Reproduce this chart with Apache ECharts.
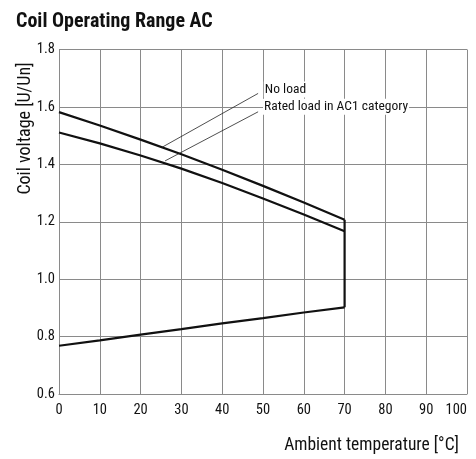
<!DOCTYPE html>
<html>
<head>
<meta charset="utf-8">
<script src="https://cdn.jsdelivr.net/npm/echarts@6/dist/echarts.min.js"></script>
<style>
html,body{margin:0;padding:0;background:#fff;}
#c{width:476px;height:459px;}
</style>
</head>
<body>
<div id="c"></div>
<script>
var FONT = "'Roboto Condensed','DejaVu Sans Condensed',sans-serif";
var temps = [0, 10, 20, 30, 40, 50, 60, 70];
var noLoad = [1.582, 1.535, 1.486, 1.435, 1.381, 1.325, 1.267, 1.207];
var ratedLoad = [1.511, 1.473, 1.431, 1.385, 1.335, 1.281, 1.225, 1.167];
var lowerLimit = [0.768, 0.787, 0.807, 0.826, 0.846, 0.864, 0.884, 0.902];
var xTicks = [0, 10, 20, 30, 40, 50, 60, 70, 80, 90, 100];
var yTicks = [0.6, 0.8, 1.0, 1.2, 1.4, 1.6, 1.8];

function pairs(xs, ys){ return xs.map(function(x,i){ return [x, ys[i]]; }); }
var last = temps.length - 1;
var edge = [[temps[last], noLoad[last]], [temps[last], lowerLimit[last]]];

var chart = echarts.init(document.getElementById('c'), null, {renderer:'canvas'});
var lineSty = {color:'#111', width:2.2};
var gridSty = {color:'#8a8a8a', width:1};

var option = {
  animation:false,
  backgroundColor:'#fff',
  title:{text:'Coil Operating Range AC', left:11, top:7,
    textStyle:{fontFamily:FONT, fontWeight:'bold', fontSize:20, color:'#111'}},
  grid:{left:59, right:9, top:49.5, bottom:65, containLabel:false},
  xAxis:{type:'value', min:xTicks[0], max:xTicks[xTicks.length-1], interval:10,
    axisLine:{show:true, lineStyle:gridSty}, axisTick:{show:false},
    splitLine:{show:true, lineStyle:gridSty},
    axisLabel:{fontFamily:FONT, fontSize:14.5, color:'#111', margin:9, alignMaxLabel:'right'}},
  yAxis:{type:'value', min:yTicks[0], max:yTicks[yTicks.length-1], interval:0.2,
    axisLine:{show:true, lineStyle:gridSty}, axisTick:{show:false},
    splitLine:{show:true, lineStyle:gridSty},
    axisLabel:{fontFamily:FONT, fontSize:14.5, color:'#111', margin:4,
      formatter:function(v){ return v.toFixed(1); }}},
  series:[
    {type:'line', data:pairs(temps, noLoad), symbol:'none', lineStyle:lineSty, silent:true,
     markLine:{silent:true, symbol:'none', label:{show:false},
       lineStyle:{color:'#222', width:0.8, type:'solid'},
       data:[
         [{coord:[25.2,1.459]},{coord:[48.8,1.647]}],
         [{coord:[26.0,1.412]},{coord:[48.8,1.583]}]
       ]}},
    {type:'line', data:pairs(temps, ratedLoad), symbol:'none', lineStyle:lineSty, silent:true},
    {type:'line', data:pairs(temps, lowerLimit), symbol:'none', lineStyle:lineSty, silent:true},
    {type:'line', data:edge, symbol:'none', lineStyle:lineSty, silent:true}
  ]
};
chart.setOption(option);

var p1 = chart.convertToPixel({gridIndex:0}, [50.2, 1.661]);
var p2 = chart.convertToPixel({gridIndex:0}, [50.0, 1.601]);
chart.setOption({
  graphic:[
    {type:'text', rotation:Math.PI/2, x:25, y:128.5,
     style:{text:'Coil voltage [U/Un]', fontFamily:FONT, fontSize:18, fill:'#111',
       align:'center', verticalAlign:'middle'}},
    {type:'text', x:371.5, y:446,
     style:{text:'Ambient temperature [°C]', fontFamily:FONT, fontSize:17.5, fill:'#111',
       align:'center', verticalAlign:'middle'}},
    {type:'text', x:p1[0], y:p1[1],
     style:{text:'No load', fontFamily:FONT, fontSize:13.5, fill:'#111',
       align:'left', verticalAlign:'middle', backgroundColor:'#fff', padding:[1,1]}},
    {type:'text', x:p2[0], y:p2[1],
     style:{text:'Rated load in AC1 category', fontFamily:FONT, fontSize:13.5, fill:'#111',
       align:'left', verticalAlign:'middle', backgroundColor:'#fff', padding:[1,1]}}
  ]
});
</script>
</body>
</html>
